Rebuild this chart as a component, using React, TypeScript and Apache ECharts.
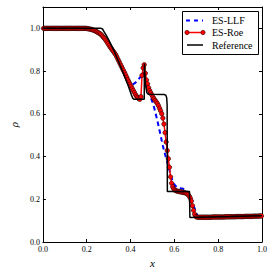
import React, { useEffect, useRef } from "react";
import * as echarts from "echarts";

// Density from the ES-Roe scheme, 200 cells on [0, 1]
const roeRho: number[] = [
  1, 1, 1, 1, 1, 1, 1, 1, 1, 1,
  1, 1, 1, 1, 1, 1, 1, 1, 1, 1,
  1, 1, 1, 1, 1, 1, 1, 1, 1, 1,
  1, 1, 1, 1, 1, 1, 1, 1, 1, 1,
  0.999, 0.998, 0.997, 0.996, 0.995, 0.993, 0.991, 0.989, 0.986, 0.983,
  0.98, 0.977, 0.974, 0.969, 0.963, 0.957, 0.951, 0.944, 0.936, 0.928,
  0.92, 0.912, 0.905, 0.898, 0.891, 0.884, 0.876, 0.866, 0.855, 0.845,
  0.834, 0.824, 0.813, 0.803, 0.793, 0.782, 0.771, 0.76, 0.749, 0.739,
  0.729, 0.719, 0.709, 0.7, 0.69, 0.682, 0.676, 0.671, 0.668, 0.68,
  0.78, 0.815, 0.83, 0.79, 0.758, 0.74, 0.722, 0.708, 0.698, 0.688,
  0.678, 0.67, 0.662, 0.655, 0.648, 0.638, 0.626, 0.614, 0.6, 0.58,
  0.552, 0.512, 0.468, 0.428, 0.39, 0.35, 0.305, 0.275, 0.258, 0.248,
  0.243, 0.24, 0.238, 0.237, 0.236, 0.235, 0.234, 0.233, 0.232, 0.231,
  0.229, 0.226, 0.222, 0.215, 0.206, 0.192, 0.17, 0.148, 0.13, 0.12,
  0.117, 0.116, 0.116, 0.116, 0.116, 0.116, 0.116, 0.116, 0.116, 0.116,
  0.116, 0.116, 0.116, 0.116, 0.117, 0.117, 0.117, 0.117, 0.117, 0.117,
  0.117, 0.117, 0.117, 0.117, 0.117, 0.117, 0.118, 0.118, 0.118, 0.118,
  0.118, 0.118, 0.118, 0.118, 0.118, 0.118, 0.119, 0.119, 0.119, 0.119,
  0.119, 0.119, 0.119, 0.119, 0.12, 0.12, 0.12, 0.12, 0.12, 0.12,
  0.12, 0.12, 0.121, 0.121, 0.121, 0.121, 0.121, 0.122, 0.122, 0.122,
];

// Density from the ES-LLF scheme, same 200 cells
const llfRho: number[] = [
  1, 1, 1, 1, 1, 1, 1, 1, 1, 1,
  1, 1, 1, 1, 1, 1, 1, 1, 1, 1,
  1, 1, 1, 1, 1, 1, 1, 1, 1, 1,
  1, 1, 1, 1, 1, 1, 1, 1, 1, 1,
  0.999, 0.998, 0.997, 0.996, 0.995, 0.993, 0.991, 0.989, 0.986, 0.983,
  0.98, 0.977, 0.974, 0.969, 0.963, 0.957, 0.951, 0.944, 0.936, 0.928,
  0.92, 0.912, 0.905, 0.898, 0.891, 0.884, 0.876, 0.866, 0.855, 0.845,
  0.834, 0.824, 0.813, 0.803, 0.793, 0.782, 0.771, 0.758, 0.746, 0.738,
  0.735, 0.736, 0.739, 0.742, 0.746, 0.751, 0.757, 0.763, 0.769, 0.775,
  0.78, 0.784, 0.78, 0.766, 0.747, 0.727, 0.708, 0.69, 0.675, 0.662,
  0.648, 0.63, 0.61, 0.589, 0.567, 0.545, 0.522, 0.498, 0.474, 0.451,
  0.43, 0.411, 0.393, 0.375, 0.356, 0.336, 0.316, 0.299, 0.285, 0.274,
  0.266, 0.261, 0.257, 0.255, 0.253, 0.252, 0.251, 0.25, 0.248, 0.246,
  0.243, 0.238, 0.232, 0.224, 0.213, 0.2, 0.187, 0.172, 0.157, 0.143,
  0.13, 0.12, 0.115, 0.113, 0.113, 0.113, 0.113, 0.113, 0.113, 0.113,
  0.113, 0.114, 0.114, 0.114, 0.114, 0.114, 0.114, 0.114, 0.114, 0.115,
  0.115, 0.115, 0.115, 0.115, 0.115, 0.115, 0.115, 0.116, 0.116, 0.116,
  0.116, 0.116, 0.116, 0.116, 0.116, 0.117, 0.117, 0.117, 0.117, 0.117,
  0.117, 0.117, 0.118, 0.118, 0.118, 0.118, 0.118, 0.118, 0.119, 0.119,
  0.119, 0.119, 0.12, 0.12, 0.12, 0.121, 0.121, 0.122, 0.122, 0.122,
];

// Fine-grid reference solution
const refX: number[] = [
  0, 0.265, 0.272, 0.279, 0.29, 0.301, 0.323, 0.345, 0.367, 0.389, 0.404,
  0.41, 0.415, 0.4625, 0.4635, 0.468, 0.474, 0.48, 0.555, 0.561, 0.565,
  0.567, 0.568, 0.669, 0.671, 0.85, 1.0,
];
const refRho: number[] = [
  1, 1, 0.997, 0.985, 0.966, 0.945, 0.899, 0.845, 0.79, 0.733, 0.688,
  0.673, 0.668, 0.668, 0.835, 0.74, 0.7, 0.692, 0.69, 0.687, 0.675,
  0.64, 0.236, 0.236, 0.115, 0.119, 0.123,
];

const xTicks = [0, 0.2, 0.4, 0.6, 0.8, 1.0];
const legendNames = ["ES-LLF", "ES-Roe", "Reference"];

const FONT = "Liberation Serif";

export default function App() {
  const ref = useRef<HTMLDivElement>(null);

  useEffect(() => {
    if (!ref.current) return;
    const chart = echarts.init(ref.current, undefined, { renderer: "svg" });

    const cellX = (n: number, i: number) => (i + 0.5) / n;
    const roeData = roeRho.map((v, i) => [cellX(roeRho.length, i), v]);
    const llfData = llfRho.map((v, i) => [cellX(llfRho.length, i), v]);
    const refData = refX.map((x, i) => [x, refRho[i]]);

    const baseX = {
      type: "value" as const,
      min: xTicks[0],
      max: xTicks[xTicks.length - 1],
      interval: 0.2,
      splitLine: { show: false },
      axisLine: { show: true, onZero: false, lineStyle: { color: "#000", width: 1 } },
      axisTick: { show: true, inside: true, length: 3, lineStyle: { color: "#000" } },
    };
    const baseY = {
      type: "value" as const,
      min: 0,
      max: 1.1,
      interval: 0.2,
      splitLine: { show: false },
      axisLine: { show: true, onZero: false, lineStyle: { color: "#000", width: 1 } },
      axisTick: { show: true, inside: true, length: 3, lineStyle: { color: "#000" } },
    };

    const lx1 = 187;
    const lx2 = 203;
    const rows = [20.5, 32.5, 45];

    chart.setOption({
      animation: false,
      grid: { left: 35, right: 13, top: 7, bottom: 33, containLabel: false },
      xAxis: [
        {
          ...baseX,
          position: "bottom",
          name: "x",
          nameLocation: "middle",
          nameGap: 13,
          nameTextStyle: { fontFamily: FONT, fontStyle: "italic", fontSize: 11, color: "#000" },
          axisLabel: {
            show: true,
            margin: 3,
            fontFamily: FONT,
            fontSize: 8,
            color: "#000",
            formatter: (v: number) => v.toFixed(1),
          },
        },
        { ...baseX, position: "top", axisLabel: { show: false } },
      ],
      yAxis: [
        {
          ...baseY,
          position: "left",
          name: "ρ",
          nameLocation: "middle",
          nameRotate: 90,
          nameGap: 18,
          nameTextStyle: { fontFamily: FONT, fontStyle: "italic", fontSize: 11, color: "#000" },
          axisLabel: {
            show: true,
            margin: 3,
            fontFamily: FONT,
            fontSize: 8,
            color: "#000",
            showMaxLabel: false,
            formatter: (v: number) => (v > 1.05 ? "" : v.toFixed(1)),
          },
        },
        { ...baseY, position: "right", axisLabel: { show: false } },
      ],
      series: [
        {
          name: legendNames[0],
          type: "line",
          data: llfData,
          showSymbol: false,
          symbol: "none",
          lineStyle: { color: "#0000ff", width: 2, type: [4.5, 3.5] },
          z: 2,
        },
        {
          name: legendNames[1],
          type: "line",
          data: roeData,
          symbol: "circle",
          symbolSize: 4.5,
          showSymbol: true,
          showAllSymbol: true,
          lineStyle: { color: "#ff0000", width: 1.5 },
          itemStyle: { color: "#ff0000", borderColor: "#000", borderWidth: 0.5 },
          z: 3,
        },
        {
          name: legendNames[2],
          type: "line",
          data: refData,
          symbol: "none",
          lineStyle: { color: "#000", width: 1.5 },
          z: 4,
        },
      ],
      graphic: [
        {
          type: "group",
          z: 100,
          children: [
            {
              type: "rect",
              shape: { x: 182.5, y: 11.5, width: 76, height: 43 },
              style: { fill: "#fff", stroke: "#000", lineWidth: 1 },
              z: 100,
            },
            {
              type: "line",
              shape: { x1: lx1 - 1, y1: rows[0], x2: lx2, y2: rows[0] },
              style: { stroke: "#0000ff", lineWidth: 2, lineDash: [4, 4] },
              z: 101,
            },
            {
              type: "line",
              shape: { x1: lx1, y1: rows[1], x2: lx2, y2: rows[1] },
              style: { stroke: "#ff0000", lineWidth: 1.5 },
              z: 101,
            },
            {
              type: "circle",
              shape: { cx: lx1, cy: rows[1], r: 2.2 },
              style: { fill: "#ff0000", stroke: "#000", lineWidth: 0.5 },
              z: 102,
            },
            {
              type: "circle",
              shape: { cx: lx2, cy: rows[1], r: 2.2 },
              style: { fill: "#ff0000", stroke: "#000", lineWidth: 0.5 },
              z: 102,
            },
            {
              type: "line",
              shape: { x1: lx1, y1: rows[2], x2: lx2, y2: rows[2] },
              style: { stroke: "#000", lineWidth: 1.5 },
              z: 101,
            },
            ...legendNames.map((n, i) => ({
              type: "text",
              x: 212,
              y: rows[i],
              style: {
                text: n,
                fontFamily: FONT,
                fontSize: 10,
                fill: "#000",
                verticalAlign: "middle",
                align: "left",
              },
              z: 102,
            })),
          ],
        },
      ],
    });

    return () => chart.dispose();
  }, []);

  return (
    <div
      ref={ref}
      style={{ position: "fixed", left: 0, top: 0, width: 275, height: 275, background: "#fff" }}
    />
  );
}
